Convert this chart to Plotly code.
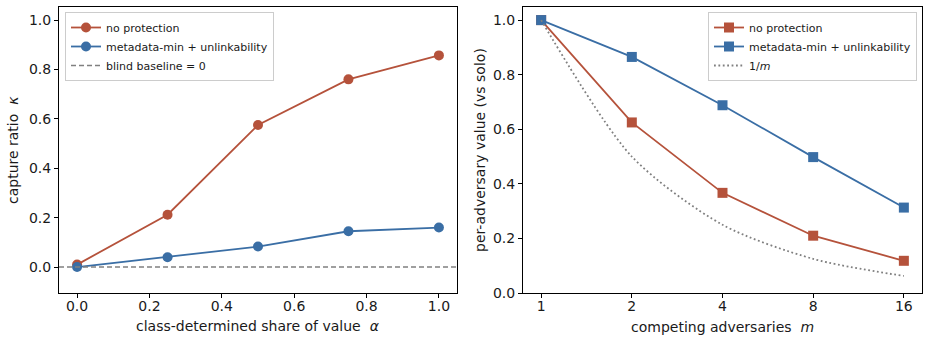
import plotly.graph_objects as go

alpha = [0.0, 0.25, 0.5, 0.75, 1.0]
kappa_noprot = [0.01, 0.212, 0.575, 0.76, 0.857]
kappa_meta = [0.0, 0.04, 0.083, 0.145, 0.16]

m_vals = [1, 2, 4, 8, 16]
val_noprot = [1.0, 0.625, 0.367, 0.21, 0.118]
val_meta = [1.0, 0.865, 0.688, 0.498, 0.313]
inv_m = [1.0, 0.5, 0.25, 0.125, 0.0625]

RED = "#b5523b"
BLUE = "#3a6ea5"
GREY = "#808080"
FONT = "DejaVu Sans"
TXT = "#1a1a1a"

fig = go.Figure()

fig.add_trace(go.Scatter(x=alpha, y=kappa_noprot, mode="lines+markers", name="no protection",
                         line=dict(color=RED, width=1.8), marker=dict(symbol="circle", size=10, color=RED),
                         xaxis="x", yaxis="y", legend="legend"))
fig.add_trace(go.Scatter(x=alpha, y=kappa_meta, mode="lines+markers", name="metadata-min + unlinkability",
                         line=dict(color=BLUE, width=1.8), marker=dict(symbol="circle", size=10, color=BLUE),
                         xaxis="x", yaxis="y", legend="legend"))
fig.add_trace(go.Scatter(x=[-0.05, 1.05], y=[0, 0], mode="lines", name="blind baseline = 0",
                         line=dict(color=GREY, width=1.4, dash="5px,3px"),
                         xaxis="x", yaxis="y", legend="legend"))

fig.add_trace(go.Scatter(x=m_vals, y=val_noprot, mode="lines+markers", name="no protection",
                         line=dict(color=RED, width=1.8), marker=dict(symbol="square", size=10, color=RED),
                         xaxis="x2", yaxis="y2", legend="legend2"))
fig.add_trace(go.Scatter(x=m_vals, y=val_meta, mode="lines+markers", name="metadata-min + unlinkability",
                         line=dict(color=BLUE, width=1.8), marker=dict(symbol="square", size=10, color=BLUE),
                         xaxis="x2", yaxis="y2", legend="legend2"))
fig.add_trace(go.Scatter(x=m_vals, y=inv_m, mode="lines", name="1/<i>m</i>",
                         line=dict(color=GREY, width=1.8, dash="1.8px,2.6px", shape="spline", smoothing=0.8),
                         xaxis="x2", yaxis="y2", legend="legend2"))

axis_common = dict(showline=True, linecolor="black", linewidth=1, mirror=True, ticks="outside",
                   ticklen=4, tickcolor="black", showgrid=False, zeroline=False, automargin=False,
                   tickfont=dict(family=FONT, size=14, color=TXT))

W, H = 929, 341
yt = [0, 0.2, 0.4, 0.6, 0.8, 1.0]
ytt = ["0.0", "0.2", "0.4", "0.6", "0.8", "1.0"]
fig.update_layout(
    width=W, height=H, margin=dict(l=0, r=0, t=0, b=0),
    paper_bgcolor="white", plot_bgcolor="white",
    font=dict(family=FONT, color=TXT),
    xaxis=dict(domain=[59 / W, 457 / W], range=[-0.05, 1.05], tickvals=yt, ticktext=ytt, anchor="y",
               ticklabelstandoff=-4, **axis_common),
    yaxis=dict(domain=[1 - 293 / H, 1 - 7 / H], range=[-0.105, 1.053], tickvals=yt, ticktext=ytt, anchor="x",
               **axis_common),
    xaxis2=dict(domain=[523 / W, 922 / W], type="log", range=[-0.2 * 0.30103, 4.2 * 0.30103],
                tickvals=m_vals, ticktext=[str(v) for v in m_vals], anchor="y2",
                ticklabelstandoff=-4, **axis_common),
    yaxis2=dict(domain=[1 - 293 / H, 1 - 7 / H], range=[0, 1.048], tickvals=yt, ticktext=ytt, anchor="x2",
                **axis_common),
    legend=dict(x=65 / W, y=1 - 12 / H, xanchor="left", yanchor="top", xref="paper", yref="paper",
                bgcolor="rgba(255,255,255,0.8)", bordercolor="#cccccc", borderwidth=1,
                font=dict(family=FONT, size=11, color=TXT), itemwidth=30, tracegroupgap=0),
    legend2=dict(x=917 / W, y=1 - 12 / H, xanchor="right", yanchor="top", xref="paper", yref="paper",
                 bgcolor="rgba(255,255,255,0.8)", bordercolor="#cccccc", borderwidth=1,
                 font=dict(family=FONT, size=11, color=TXT), itemwidth=30, tracegroupgap=0),
)

titles = [
    dict(text="class-determined share of value  <i>α</i>", x=258 / W, y=1 - 326 / H, textangle=0),
    dict(text="competing adversaries  <i>m</i>", x=722 / W, y=1 - 327 / H, textangle=0),
    dict(text="capture ratio  <i>κ</i>", x=13 / W, y=1 - 150 / H, textangle=-90),
    dict(text="per-adversary value (vs solo)", x=480 / W, y=1 - 150 / H, textangle=-90),
]
for t in titles:
    fig.add_annotation(text=t["text"], x=t["x"], y=t["y"], xref="paper", yref="paper",
                       xanchor="center", yanchor="middle", textangle=t["textangle"], showarrow=False,
                       font=dict(family=FONT, size=14, color=TXT))

fig.write_html("out.html")
